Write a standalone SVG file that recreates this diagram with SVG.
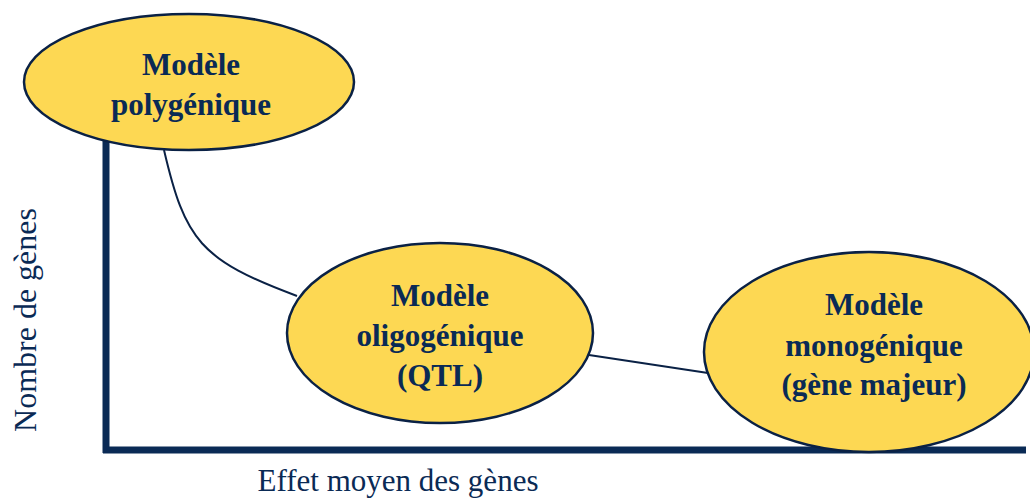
<svg xmlns="http://www.w3.org/2000/svg" width="1030" height="500" viewBox="0 0 1030 500">
<style>
.node ellipse{fill:#FDD853;stroke:#0A2145;stroke-width:2.5}
.lbl{font-family:"Liberation Serif",serif;font-weight:bold;font-size:31px;fill:#0A2A55;text-anchor:middle}
.axis{stroke:#0A2A55;stroke-width:7;fill:none}
.conn{stroke:#0A2145;stroke-width:2;fill:none}
.axlbl{font-family:"Liberation Serif",serif;font-size:30px;fill:#0A2A55;text-anchor:middle}
</style>
<rect width="1030" height="500" fill="#fff"/>
<g id="axes">
<line class="axis" x1="106" y1="140" x2="106" y2="453"/>
<line class="axis" x1="103" y1="450" x2="1026" y2="450"/>
</g>
<g id="connectors">
<path class="conn" d="M164,150 C185,240 200,260 297,296"/>
<line class="conn" x1="589" y1="355" x2="708" y2="373"/>
</g>
<g id="poly" class="node">
<ellipse cx="189" cy="82" rx="165" ry="68"/>
<text class="lbl" x="191" y="75">Modèle</text>
<text class="lbl" x="191" y="115">polygénique</text>
</g>
<g id="oligo" class="node">
<ellipse cx="440" cy="333" rx="153" ry="90"/>
<text class="lbl" x="440" y="306">Modèle</text>
<text class="lbl" x="440" y="346">oligogénique</text>
<text class="lbl" x="440" y="386">(QTL)</text>
</g>
<g id="mono" class="node">
<ellipse cx="869" cy="352" rx="165" ry="100"/>
<text class="lbl" x="874" y="315">Modèle</text>
<text class="lbl" x="874" y="356">monogénique</text>
<text class="lbl" x="874" y="395">(gène majeur)</text>
</g>
<text class="axlbl" style="font-size:31px" x="398" y="491">Effet moyen des gènes</text>
<text class="axlbl" style="font-size:32px" transform="translate(36,320) rotate(-90)">Nombre de gènes</text>
</svg>
